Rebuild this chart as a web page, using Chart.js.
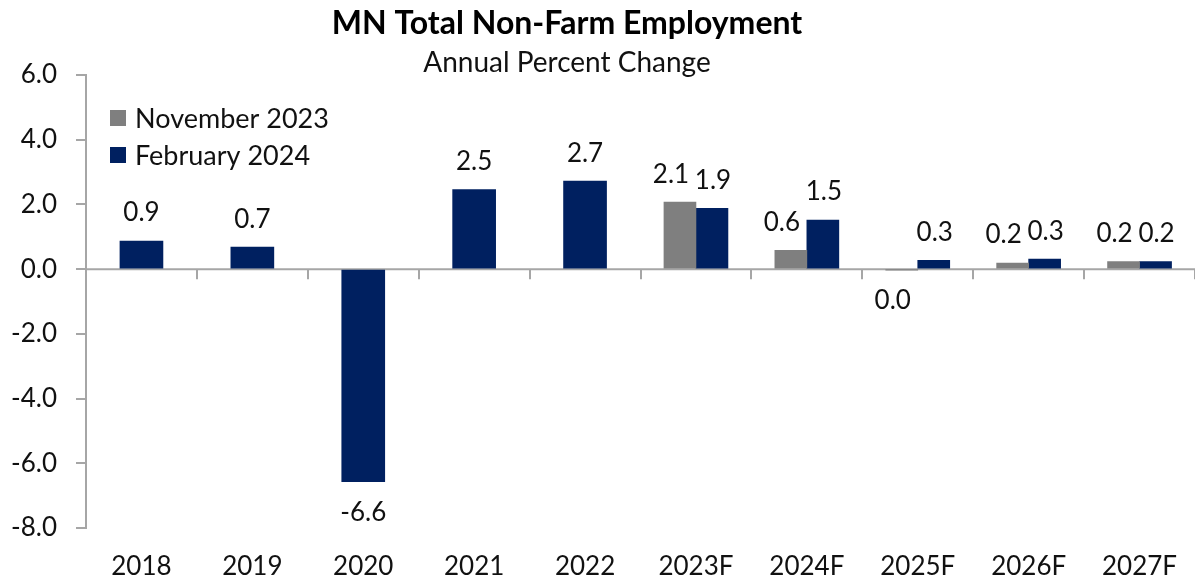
<!DOCTYPE html>
<html><head><meta charset="utf-8">
<script src="https://cdn.jsdelivr.net/npm/chart.js@4.4.1/dist/chart.umd.min.js"></script>
<style>html,body{margin:0;padding:0;background:#fff;} #wrap{position:relative;width:1195px;height:584px;}</style>
</head><body><div id="wrap"><canvas id="c" width="1195" height="584"></canvas></div>
<script>
const titleText = 'MN Total Non-Farm Employment';
const subtitleText = 'Annual Percent Change';
const categories = ['2018','2019','2020','2021','2022','2023F','2024F','2025F','2026F','2027F'];
const nov2023 = [null, null, null, null, null, 2.07, 0.58, -0.01, 0.19, 0.23];
const feb2024 = [0.87, 0.68, -6.57, 2.46, 2.72, 1.88, 1.52, 0.27, 0.31, 0.23];
const yTicks = [-8, -6, -4, -2, 0, 2, 4, 6];
const seriesNames = ['November 2023', 'February 2024'];
const seriesColors = ['#7F7F7F', '#002060'];

const isForecast = categories.map(c => c.endsWith('F'));
const febHist = feb2024.map((v, i) => isForecast[i] ? null : v);
const febFcst = feb2024.map((v, i) => isForecast[i] ? v : null);

const FONT = 'Lato';
const AXIS = '#A6A6A6';
const TXT = '#111';

function fmt(v) { return Math.abs(v) < 0.05 ? '0.0' : v.toFixed(1); }

const overlay = {
  id: 'overlay',
  beforeDatasetsDraw(chart) {
    const ctx = chart.ctx, x = chart.scales.x, y = chart.scales.y;
    const y0 = y.getPixelForValue(0);
    const step = x.getPixelForValue(1) - x.getPixelForValue(0);
    ctx.save();
    ctx.strokeStyle = AXIS; ctx.lineWidth = 2;
    ctx.beginPath(); ctx.moveTo(chart.chartArea.left, y0); ctx.lineTo(chart.chartArea.right, y0); ctx.stroke();
    for (let i = 0; i < categories.length; i++) {
      const px = Math.round(x.getPixelForValue(i) + step / 2);
      ctx.beginPath(); ctx.moveTo(px, y0); ctx.lineTo(px, y0 + 10); ctx.stroke();
    }
    ctx.restore();
  },
  afterDraw(chart) {
    const ctx = chart.ctx;
    ctx.save();
    // title
    ctx.fillStyle = '#000';
    ctx.textAlign = 'center'; ctx.textBaseline = 'alphabetic';
    ctx.font = 'bold 32px ' + FONT;
    ctx.fillText(titleText, 567, 34);
    ctx.fillStyle = TXT;
    ctx.font = '28px ' + FONT;
    ctx.fillText(subtitleText, 567, 72);
    // legend
    ctx.textAlign = 'left'; ctx.textBaseline = 'middle';
    ctx.font = '27px ' + FONT;
    seriesNames.forEach((n, i) => {
      const cy = 118 + i * 37;
      ctx.fillStyle = seriesColors[i];
      ctx.fillRect(110, cy - 8, 16, 16);
      ctx.fillStyle = TXT;
      ctx.fillText(n, 135, cy + 1);
    });
    // data labels
    ctx.textAlign = 'center'; ctx.textBaseline = 'middle';
    ctx.font = '26px ' + FONT;
    const dx = [-9, 0, 1];
    chart.data.datasets.forEach((ds, di) => {
      const meta = chart.getDatasetMeta(di);
      meta.data.forEach((el, i) => {
        const v = ds.data[i];
        if (v === null || v === undefined) return;
        const ty = v >= 0 ? el.y - 28 : el.y + 31;
        ctx.fillStyle = TXT;
        ctx.fillText(fmt(v), el.x + dx[di], ty);
      });
    });
    ctx.restore();
  }
};

new Chart(document.getElementById('c'), {
  type: 'bar',
  data: {
    labels: categories,
    datasets: [
      { label: seriesNames[0], data: nov2023, backgroundColor: seriesColors[0], barThickness: 32, skipNull: true },
      { label: seriesNames[1], data: febHist, backgroundColor: seriesColors[1], barThickness: 43, skipNull: true },
      { label: seriesNames[1], data: febFcst, backgroundColor: seriesColors[1], barThickness: 32, skipNull: true }
    ]
  },
  options: {
    responsive: false,
    animation: false,
    layout: { padding: { top: 75, right: 0, bottom: 0, left: 0 } },
    plugins: { legend: { display: false }, title: { display: false }, tooltip: { enabled: false } },
    scales: {
      x: {
        afterFit(s) { s.height = 56; },
        grid: { display: false },
        border: { display: false },
        ticks: { font: { family: FONT, size: 26 }, color: TXT, padding: 15, maxRotation: 0, autoSkip: false }
      },
      y: {
        min: -8, max: 6,
        afterFit(s) { s.width = 86; },
        afterBuildTicks(s) { s.ticks = yTicks.map(v => ({ value: v })); },
        grid: { drawOnChartArea: false, drawTicks: true, tickLength: 10, color: AXIS, lineWidth: 2 },
        border: { display: true, color: AXIS, width: 2 },
        ticks: { font: { family: FONT, size: 26 }, color: TXT, padding: 19, callback: v => v.toFixed(1) }
      }
    }
  },
  plugins: [overlay]
});
</script></body></html>
